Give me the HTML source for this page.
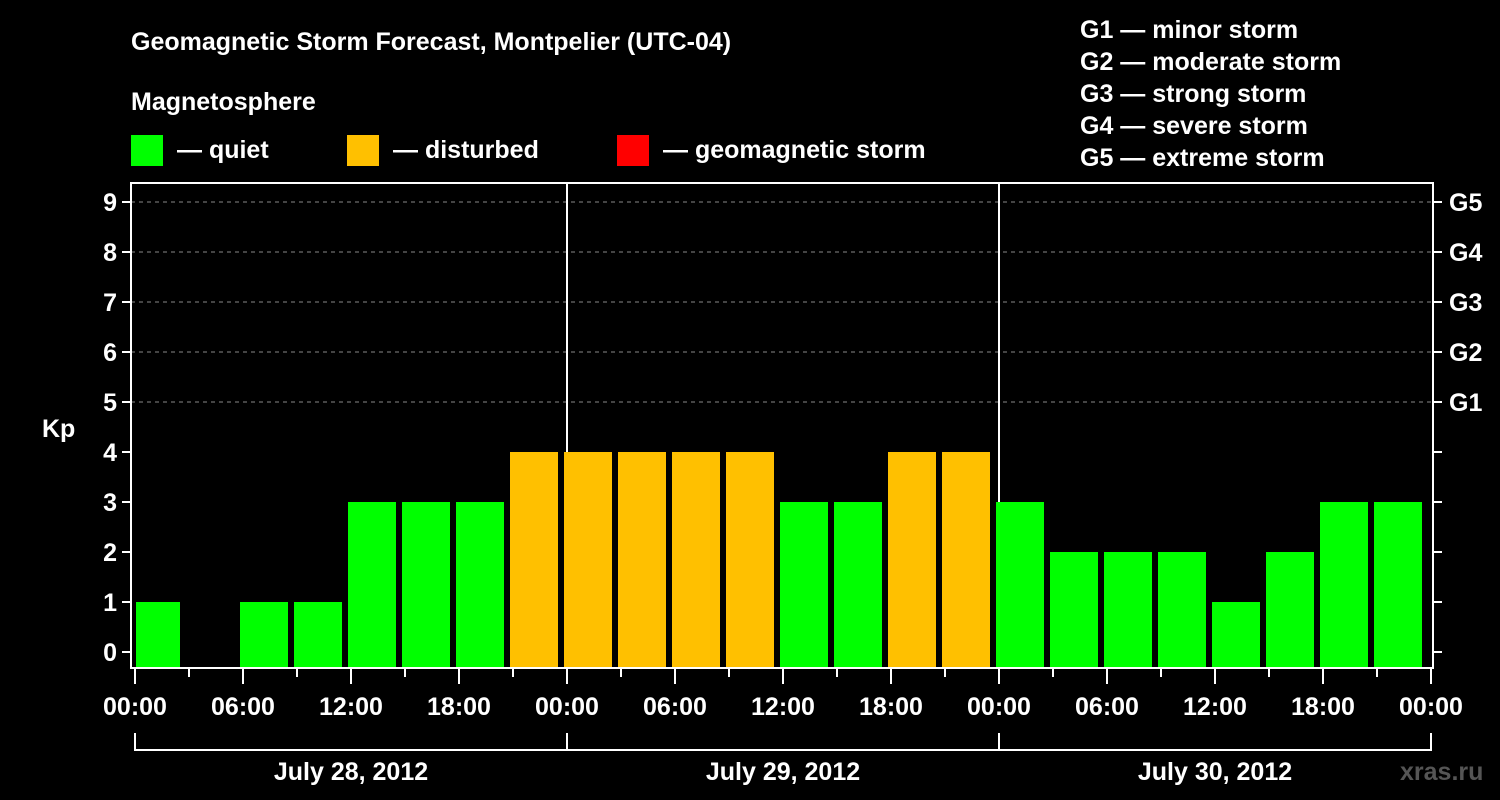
<!DOCTYPE html>
<html><head><meta charset="utf-8"><style>
html,body{margin:0;padding:0;background:#000;}
svg{display:block;font-family:"Liberation Sans",Arial,sans-serif;font-weight:bold;}
</style></head><body>
<svg id="chart" width="1500" height="800" viewBox="0 0 1500 800">
<rect x="0" y="0" width="1500" height="800" fill="#000"/>
<text x="131" y="50" fill="#fff" font-size="25">Geomagnetic Storm Forecast, Montpelier (UTC-04)</text>
<text x="131" y="110" fill="#fff" font-size="25">Magnetosphere</text>
<g><rect x="131" y="135" width="32" height="31" fill="#00ff00"/><text x="177" y="158" fill="#fff" font-size="25">— quiet</text></g>
<g><rect x="347" y="135" width="32" height="31" fill="#ffc000"/><text x="393" y="158" fill="#fff" font-size="25">— disturbed</text></g>
<g><rect x="617" y="135" width="32" height="31" fill="#ff0000"/><text x="663" y="158" fill="#fff" font-size="25">— geomagnetic storm</text></g>
<g fill="#fff" font-size="25">
<text x="1080" y="38">G1 — minor storm</text>
<text x="1080" y="70">G2 — moderate storm</text>
<text x="1080" y="102">G3 — strong storm</text>
<text x="1080" y="134">G4 — severe storm</text>
<text x="1080" y="166">G5 — extreme storm</text>
</g>
<text x="42" y="437" fill="#fff" font-size="25">Kp</text>
<text x="1400" y="780" fill="#555" font-size="25">xras.ru</text>
<g id="grid"></g><g id="daylines"></g><g id="bars"></g><g id="axes"></g>
</svg>
<script>
const kpValues=[1,0,1,1,3,3,3,4,4,4,4,4,3,3,4,4,3,2,2,2,1,2,3,3,3];
const yTicks=[0,1,2,3,4,5,6,7,8,9];
const gLabels=["G1","G2","G3","G4","G5"];
const xTickLabels=["00:00","06:00","12:00","18:00","00:00","06:00","12:00","18:00","00:00","06:00","12:00","18:00","00:00"];
const dayLabels=["July 28, 2012","July 29, 2012","July 30, 2012"];
const NS="http://www.w3.org/2000/svg";
const L=131,R=1433,T=183,B=668,X0=135,PXH=18;
const y=v=>652-50*v;
const x=h=>X0+PXH*h;
function mk(tag,attrs,parent,txt){const e=document.createElementNS(NS,tag);for(const k in attrs)e.setAttribute(k,attrs[k]);if(txt!=null)e.textContent=txt;parent.appendChild(e);return e;}
const grid=document.getElementById('grid'),bars=document.getElementById('bars'),axes=document.getElementById('axes'),dl=document.getElementById('daylines');
yTicks.forEach(v=>{if(v>=5){const l=mk('line',{x1:L,x2:R,y1:y(v),y2:y(v),stroke:'#888','stroke-dasharray':'4 4','stroke-width':1},grid);

}});
for(let d=1;d<dayLabels.length;d++){const l=mk('line',{x1:x(24*d),x2:x(24*d),y1:T,y2:B,stroke:'#fff','stroke-width':2},dl);

}
kpValues.forEach((v,i)=>{if(v<=0)return;const c=x(1.5+3*i)-9+3;let x1=c-24,x2=c+24;x1=Math.max(x1,L+5);x2=Math.min(x2,R-5);
const col=v>=5?'#ff0000':(v>=4?'#ffc000':'#00ff00');
const r=mk('rect',{x:x1,y:y(v),width:x2-x1,height:B-y(v),fill:col},bars);

});
const f=mk('rect',{x:L,y:T,width:R-L,height:B-T,fill:'none',stroke:'#fff','stroke-width':2},axes);


yTicks.forEach(v=>{mk('line',{x1:L-9,x2:L,y1:y(v),y2:y(v),stroke:'#fff','stroke-width':2},axes);mk('line',{x1:R,x2:R+9,y1:y(v),y2:y(v),stroke:'#fff','stroke-width':2},axes);
const t=mk('text',{x:L-14,y:y(v)+9,fill:'#fff','font-size':25,'text-anchor':'end'},axes,String(v));


if(v>=5){const g=mk('text',{x:R+16,y:y(v)+9,fill:'#fff','font-size':25},axes,gLabels[v-5]);

}});
for(let h=0;h<=72;h+=3){const maj=h%6===0;mk('line',{x1:x(h),x2:x(h),y1:B,y2:B+(maj?16:9),stroke:'#fff','stroke-width':2},axes);}
xTickLabels.forEach((s,i)=>{const t=mk('text',{x:x(6*i),y:715,fill:'#fff','font-size':25,'text-anchor':'middle'},axes,s);

});
dayLabels.forEach((s,d)=>{mk('polyline',{points:`${x(24*d)},733 ${x(24*d)},750 ${x(24*d+24)},750 ${x(24*d+24)},733`,fill:'none',stroke:'#fff','stroke-width':2},axes);
const t=mk('text',{x:x(24*d+12),y:780,fill:'#fff','font-size':25,'text-anchor':'middle'},axes,s);

});
</script>
</body></html>
